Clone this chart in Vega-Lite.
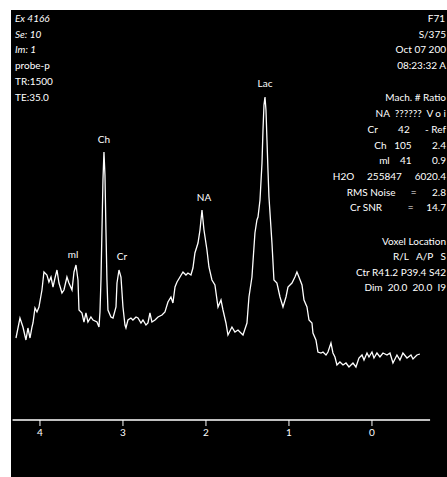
{
  "$schema": "https://vega.github.io/schema/vega-lite/v6.json",
  "width": 447,
  "height": 477,
  "autosize": {"type": "fit", "contains": "padding"},
  "padding": {"left": 11, "top": 10, "right": 0, "bottom": 0},
  "background": "white",
  "config": {"view": {"fill": "black", "stroke": null}},
  "datasets": {
    "spectrum": [
      {"ppm": 4.289, "amp": 22}, {"ppm": 4.241, "amp": 42}, {"ppm": 4.205, "amp": 33}, {"ppm": 4.169, "amp": 20},
      {"ppm": 4.145, "amp": 32}, {"ppm": 4.120, "amp": 22}, {"ppm": 4.096, "amp": 33}, {"ppm": 4.084, "amp": 37},
      {"ppm": 4.060, "amp": 52}, {"ppm": 4.036, "amp": 48}, {"ppm": 4.012, "amp": 53}, {"ppm": 3.976, "amp": 70},
      {"ppm": 3.952, "amp": 88}, {"ppm": 3.916, "amp": 85}, {"ppm": 3.892, "amp": 78}, {"ppm": 3.867, "amp": 83},
      {"ppm": 3.843, "amp": 73}, {"ppm": 3.819, "amp": 82}, {"ppm": 3.795, "amp": 90}, {"ppm": 3.771, "amp": 77},
      {"ppm": 3.735, "amp": 67}, {"ppm": 3.711, "amp": 70}, {"ppm": 3.675, "amp": 83}, {"ppm": 3.651, "amp": 77},
      {"ppm": 3.614, "amp": 70}, {"ppm": 3.590, "amp": 88}, {"ppm": 3.566, "amp": 95}, {"ppm": 3.542, "amp": 80},
      {"ppm": 3.530, "amp": 50}, {"ppm": 3.494, "amp": 47}, {"ppm": 3.470, "amp": 38}, {"ppm": 3.446, "amp": 47},
      {"ppm": 3.422, "amp": 38}, {"ppm": 3.386, "amp": 43}, {"ppm": 3.361, "amp": 40}, {"ppm": 3.313, "amp": 38},
      {"ppm": 3.289, "amp": 33}, {"ppm": 3.277, "amp": 48}, {"ppm": 3.265, "amp": 80}, {"ppm": 3.253, "amp": 130},
      {"ppm": 3.241, "amp": 180}, {"ppm": 3.229, "amp": 208}, {"ppm": 3.217, "amp": 185}, {"ppm": 3.205, "amp": 130},
      {"ppm": 3.193, "amp": 80}, {"ppm": 3.181, "amp": 50}, {"ppm": 3.145, "amp": 43}, {"ppm": 3.120, "amp": 42},
      {"ppm": 3.084, "amp": 53}, {"ppm": 3.072, "amp": 77}, {"ppm": 3.048, "amp": 90}, {"ppm": 3.024, "amp": 83},
      {"ppm": 3.000, "amp": 53}, {"ppm": 2.976, "amp": 35}, {"ppm": 2.964, "amp": 32}, {"ppm": 2.940, "amp": 40},
      {"ppm": 2.904, "amp": 42}, {"ppm": 2.880, "amp": 40}, {"ppm": 2.843, "amp": 43}, {"ppm": 2.819, "amp": 42},
      {"ppm": 2.783, "amp": 37}, {"ppm": 2.759, "amp": 40}, {"ppm": 2.723, "amp": 35}, {"ppm": 2.699, "amp": 37},
      {"ppm": 2.675, "amp": 47}, {"ppm": 2.651, "amp": 38}, {"ppm": 2.614, "amp": 40}, {"ppm": 2.578, "amp": 43},
      {"ppm": 2.530, "amp": 45}, {"ppm": 2.494, "amp": 48}, {"ppm": 2.458, "amp": 58}, {"ppm": 2.422, "amp": 63},
      {"ppm": 2.398, "amp": 57}, {"ppm": 2.373, "amp": 73}, {"ppm": 2.349, "amp": 78}, {"ppm": 2.313, "amp": 83},
      {"ppm": 2.277, "amp": 88}, {"ppm": 2.241, "amp": 85}, {"ppm": 2.217, "amp": 87}, {"ppm": 2.181, "amp": 85},
      {"ppm": 2.157, "amp": 92}, {"ppm": 2.133, "amp": 107}, {"ppm": 2.096, "amp": 117}, {"ppm": 2.072, "amp": 130},
      {"ppm": 2.048, "amp": 150}, {"ppm": 2.024, "amp": 130}, {"ppm": 1.988, "amp": 110}, {"ppm": 1.964, "amp": 93},
      {"ppm": 1.928, "amp": 80}, {"ppm": 1.892, "amp": 75}, {"ppm": 1.855, "amp": 53}, {"ppm": 1.819, "amp": 60},
      {"ppm": 1.795, "amp": 50}, {"ppm": 1.759, "amp": 37}, {"ppm": 1.735, "amp": 25}, {"ppm": 1.687, "amp": 33},
      {"ppm": 1.651, "amp": 28}, {"ppm": 1.614, "amp": 30}, {"ppm": 1.554, "amp": 25}, {"ppm": 1.506, "amp": 37},
      {"ppm": 1.482, "amp": 63}, {"ppm": 1.446, "amp": 83}, {"ppm": 1.410, "amp": 127}, {"ppm": 1.386, "amp": 140},
      {"ppm": 1.373, "amp": 143}, {"ppm": 1.349, "amp": 160}, {"ppm": 1.325, "amp": 197}, {"ppm": 1.313, "amp": 230},
      {"ppm": 1.301, "amp": 255}, {"ppm": 1.289, "amp": 263}, {"ppm": 1.277, "amp": 250}, {"ppm": 1.265, "amp": 220},
      {"ppm": 1.253, "amp": 190}, {"ppm": 1.241, "amp": 163}, {"ppm": 1.205, "amp": 117}, {"ppm": 1.181, "amp": 80},
      {"ppm": 1.145, "amp": 77}, {"ppm": 1.108, "amp": 63}, {"ppm": 1.072, "amp": 53}, {"ppm": 1.036, "amp": 63},
      {"ppm": 1.012, "amp": 73}, {"ppm": 0.964, "amp": 77}, {"ppm": 0.928, "amp": 83}, {"ppm": 0.904, "amp": 88},
      {"ppm": 0.880, "amp": 83}, {"ppm": 0.843, "amp": 75}, {"ppm": 0.819, "amp": 60}, {"ppm": 0.783, "amp": 53},
      {"ppm": 0.759, "amp": 40}, {"ppm": 0.723, "amp": 37}, {"ppm": 0.711, "amp": 27}, {"ppm": 0.675, "amp": 20},
      {"ppm": 0.651, "amp": 8}, {"ppm": 0.614, "amp": 7}, {"ppm": 0.590, "amp": 8}, {"ppm": 0.554, "amp": 5},
      {"ppm": 0.530, "amp": 8}, {"ppm": 0.494, "amp": 17}, {"ppm": 0.470, "amp": 7}, {"ppm": 0.446, "amp": 3},
      {"ppm": 0.422, "amp": -5}, {"ppm": 0.386, "amp": -2}, {"ppm": 0.349, "amp": -5}, {"ppm": 0.313, "amp": -3},
      {"ppm": 0.277, "amp": -7}, {"ppm": 0.229, "amp": -3}, {"ppm": 0.193, "amp": -7}, {"ppm": 0.157, "amp": 2},
      {"ppm": 0.120, "amp": 5}, {"ppm": 0.096, "amp": 0}, {"ppm": 0.060, "amp": 7}, {"ppm": 0.036, "amp": 3},
      {"ppm": 0.000, "amp": 8}, {"ppm": -0.024, "amp": 2}, {"ppm": -0.060, "amp": 7}, {"ppm": -0.096, "amp": 3},
      {"ppm": -0.133, "amp": 7}, {"ppm": -0.181, "amp": 5}, {"ppm": -0.217, "amp": 7}, {"ppm": -0.253, "amp": -3},
      {"ppm": -0.301, "amp": 5}, {"ppm": -0.337, "amp": 0}, {"ppm": -0.373, "amp": 7}, {"ppm": -0.422, "amp": 2},
      {"ppm": -0.470, "amp": 5}, {"ppm": -0.494, "amp": 1}, {"ppm": -0.542, "amp": 5}, {"ppm": -0.578, "amp": 6}
    ],
    "peaks": [
      {"ppm": 3.602, "amp": 105, "label": "ml"},
      {"ppm": 3.229, "amp": 220, "label": "Ch"},
      {"ppm": 3.012, "amp": 103, "label": "Cr"},
      {"ppm": 2.024, "amp": 162, "label": "NA"},
      {"ppm": 1.289, "amp": 276, "label": "Lac"}
    ],
    "axisline": [{"ppm": 4.33, "ppm2": -0.70, "amp": -60}],
    "ticks": [
      {"ppm": 4, "amp": -60, "amp2": -66, "label": "4"},
      {"ppm": 3, "amp": -60, "amp2": -66, "label": "3"},
      {"ppm": 2, "amp": -60, "amp2": -66, "label": "2"},
      {"ppm": 1, "amp": -60, "amp2": -66, "label": "1"},
      {"ppm": 0, "amp": -60, "amp2": -66, "label": "0"}
    ],
    "leftinfo": [
      {"ppm": 4.301, "amp": 341, "text": "Ex 4166", "style": "italic"},
      {"ppm": 4.301, "amp": 325, "text": "Se: 10", "style": "italic"},
      {"ppm": 4.301, "amp": 310, "text": "Im: 1", "style": "italic"},
      {"ppm": 4.301, "amp": 294, "text": "probe-p", "style": "normal"},
      {"ppm": 4.301, "amp": 278, "text": "TR:1500", "style": "normal"},
      {"ppm": 4.301, "amp": 262, "text": "TE:35.0", "style": "normal"}
    ],
    "rightinfo": [
      {"ppm": -0.880, "amp": 341, "text": "F71"},
      {"ppm": -0.892, "amp": 325, "text": "S/375"},
      {"ppm": -0.892, "amp": 310, "text": "Oct 07 200"},
      {"ppm": -0.892, "amp": 294, "text": "08:23:32 A"},
      {"ppm": -0.892, "amp": 262, "text": "Mach.\u00a0#\u00a0Ratio"},
      {"ppm": -0.892, "amp": 246, "text": "NA\u00a0\u00a0??????\u00a0\u00a0V\u00a0o\u00a0i"},
      {"ppm": -0.892, "amp": 230, "text": "Cr\u00a0\u00a0\u00a0\u00a0\u00a0\u00a0\u00a0\u00a042\u00a0\u00a0\u00a0\u00a0\u00a0\u00a0-\u00a0Ref"},
      {"ppm": -0.892, "amp": 214, "text": "Ch\u00a0\u00a0\u00a0105\u00a0\u00a0\u00a0\u00a0\u00a0\u00a0\u00a0\u00a02.4"},
      {"ppm": -0.892, "amp": 199, "text": "ml\u00a0\u00a0\u00a0\u00a041\u00a0\u00a0\u00a0\u00a0\u00a0\u00a0\u00a0\u00a00.9"},
      {"ppm": -0.892, "amp": 183, "text": "H2O\u00a0\u00a0\u00a0\u00a0\u00a0255847\u00a0\u00a0\u00a0\u00a0\u00a06020.4"},
      {"ppm": -0.892, "amp": 167, "text": "RMS Noise\u00a0\u00a0\u00a0\u00a0\u00a0\u00a0=\u00a0\u00a0\u00a0\u00a0\u00a0\u00a02.8"},
      {"ppm": -0.892, "amp": 152, "text": "Cr SNR\u00a0\u00a0\u00a0\u00a0\u00a0\u00a0\u00a0\u00a0\u00a0\u00a0=\u00a0\u00a0\u00a0\u00a0\u00a014.7"},
      {"ppm": -0.892, "amp": 118, "text": "Voxel Location"},
      {"ppm": -0.892, "amp": 103, "text": "R/L\u00a0\u00a0\u00a0A/P\u00a0\u00a0\u00a0S"},
      {"ppm": -0.892, "amp": 87, "text": "Ctr R41.2 P39.4 S42"},
      {"ppm": -0.892, "amp": 72, "text": "Dim\u00a0\u00a020.0\u00a0\u00a020.0\u00a0\u00a0I9"}
    ]
  },
  "layer": [
    {
      "data": {"name": "spectrum"},
      "mark": {"type": "line", "color": "white", "strokeWidth": 1.3, "clip": true},
      "encoding": {
        "x": {"field": "ppm", "type": "quantitative", "scale": {"domain": [4.349, -0.904], "nice": false, "zero": false}, "axis": null},
        "y": {"field": "amp", "type": "quantitative", "scale": {"domain": [-117, 350], "nice": false, "zero": false}, "axis": null},
        "order": {"field": "ppm", "sort": "descending"}
      }
    },
    {
      "data": {"name": "axisline"},
      "mark": {"type": "rule", "color": "white", "strokeWidth": 1.5, "clip": true},
      "encoding": {
        "x": {"field": "ppm", "type": "quantitative"},
        "x2": {"field": "ppm2"},
        "y": {"field": "amp", "type": "quantitative"}
      }
    },
    {
      "data": {"name": "ticks"},
      "mark": {"type": "rule", "color": "white", "strokeWidth": 1, "clip": true},
      "encoding": {
        "x": {"field": "ppm", "type": "quantitative"},
        "y": {"field": "amp", "type": "quantitative"},
        "y2": {"field": "amp2"}
      }
    },
    {
      "data": {"name": "ticks"},
      "mark": {"type": "text", "color": "white", "font": "Lato", "fontSize": 10, "dy": 13, "baseline": "middle", "align": "center", "clip": true},
      "encoding": {
        "x": {"field": "ppm", "type": "quantitative"},
        "y": {"field": "amp", "type": "quantitative"},
        "text": {"field": "label"}
      }
    },
    {
      "data": {"name": "peaks"},
      "mark": {"type": "text", "color": "white", "font": "Lato", "fontSize": 10, "baseline": "middle", "align": "center", "clip": true},
      "encoding": {
        "x": {"field": "ppm", "type": "quantitative"},
        "y": {"field": "amp", "type": "quantitative"},
        "text": {"field": "label"}
      }
    },
    {
      "data": {"name": "leftinfo"},
      "transform": [{"filter": "datum.style == 'italic'"}],
      "mark": {"type": "text", "color": "white", "font": "Lato", "fontSize": 10, "fontStyle": "italic", "baseline": "middle", "align": "left", "clip": true},
      "encoding": {
        "x": {"field": "ppm", "type": "quantitative"},
        "y": {"field": "amp", "type": "quantitative"},
        "text": {"field": "text"}
      }
    },
    {
      "data": {"name": "leftinfo"},
      "transform": [{"filter": "datum.style == 'normal'"}],
      "mark": {"type": "text", "color": "white", "font": "Lato", "fontSize": 10, "baseline": "middle", "align": "left", "clip": true},
      "encoding": {
        "x": {"field": "ppm", "type": "quantitative"},
        "y": {"field": "amp", "type": "quantitative"},
        "text": {"field": "text"}
      }
    },
    {
      "data": {"name": "rightinfo"},
      "mark": {"type": "text", "color": "white", "font": "Lato", "fontSize": 10, "baseline": "middle", "align": "right", "clip": true},
      "encoding": {
        "x": {"field": "ppm", "type": "quantitative"},
        "y": {"field": "amp", "type": "quantitative"},
        "text": {"field": "text"}
      }
    }
  ]
}
